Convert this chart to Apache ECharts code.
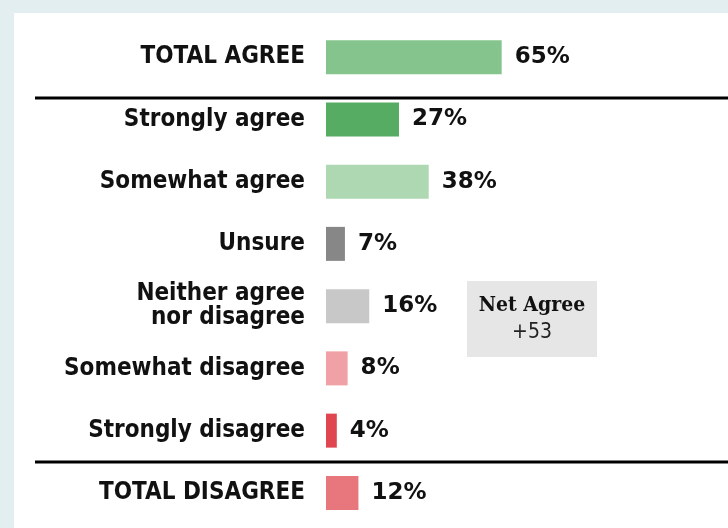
<!DOCTYPE html>
<html>
<head>
<meta charset="utf-8">
<script src="https://cdn.jsdelivr.net/npm/echarts@6/dist/echarts.min.js"></script>
<style>
html,body{margin:0;padding:0;background:#e3eef0;}
#c{width:728px;height:528px;}
</style>
</head>
<body>
<div id="c"></div>
<script>
var categories = ['TOTAL AGREE','Strongly agree','Somewhat agree','Unsure','Neither agree\nnor disagree','Somewhat disagree','Strongly disagree','TOTAL DISAGREE'];
var values = [65, 27, 38, 7, 16, 8, 4, 12];
var barColors = ['#85c48d','#56ac62','#aed8b2','#878787','#c8c8c8','#f0a1a5','#df464f','#e8777d'];
var isTotal = [true,false,false,false,false,false,false,true];
var netAgree = values[0] - values[7];

var chart = echarts.init(document.getElementById('c'), null, {renderer:'canvas'});
var labelFont = '"Liberation Sans Narrow", "DejaVu Sans Condensed", sans-serif';
chart.setOption({
  backgroundColor: '#e3eef0',
  animation: false,
  graphic: [
    {type:'rect', shape:{x:14,y:13,width:714,height:515}, style:{fill:'#ffffff'}, z:-10},
    {type:'line', shape:{x1:35,y1:98,x2:728,y2:98}, style:{stroke:'#000',lineWidth:3}},
    {type:'line', shape:{x1:35,y1:462,x2:728,y2:462}, style:{stroke:'#000',lineWidth:3}},
    {type:'rect', shape:{x:467,y:281,width:130,height:76}, style:{fill:'#e6e6e6'}},
    {type:'text', x:532, y:306, style:{text:'Net Agree', fill:'#111', font:'bold 21px "DejaVu Serif Condensed", "DejaVu Serif", serif', align:'center', verticalAlign:'middle'}},
    {type:'text', x:532, y:333, style:{text:'+' + netAgree, fill:'#222', font:'21px ' + labelFont, align:'center', verticalAlign:'middle'}}
  ],
  grid: {left:326, right:2, top:26, bottom:4, containLabel:false},
  xAxis: {type:'value', min:0, max:148, show:false},
  yAxis: {
    type:'category', inverse:true, data: categories,
    axisLine:{show:false}, axisTick:{show:false},
    axisLabel:{
      margin:21, color:'#111', fontSize:24, lineHeight:24, fontFamily: labelFont, fontWeight:'bold',
      formatter: function(v, i){ return isTotal[i] ? '{t|' + v + '}' : v; },
      rich:{ t:{fontSize:24, fontWeight:'bold', fontFamily: labelFont, color:'#111'} }
    }
  },
  series: [{
    type:'bar', barWidth:34,
    data: values.map(function(v,i){ return {value:v, itemStyle:{color:barColors[i]}}; }),
    label:{show:true, position:'right', distance:13, formatter:'{c}%', color:'#111', fontSize:23, fontWeight:'bold', fontFamily:'"DejaVu Sans", sans-serif'}
  }]
});
</script>
</body>
</html>
